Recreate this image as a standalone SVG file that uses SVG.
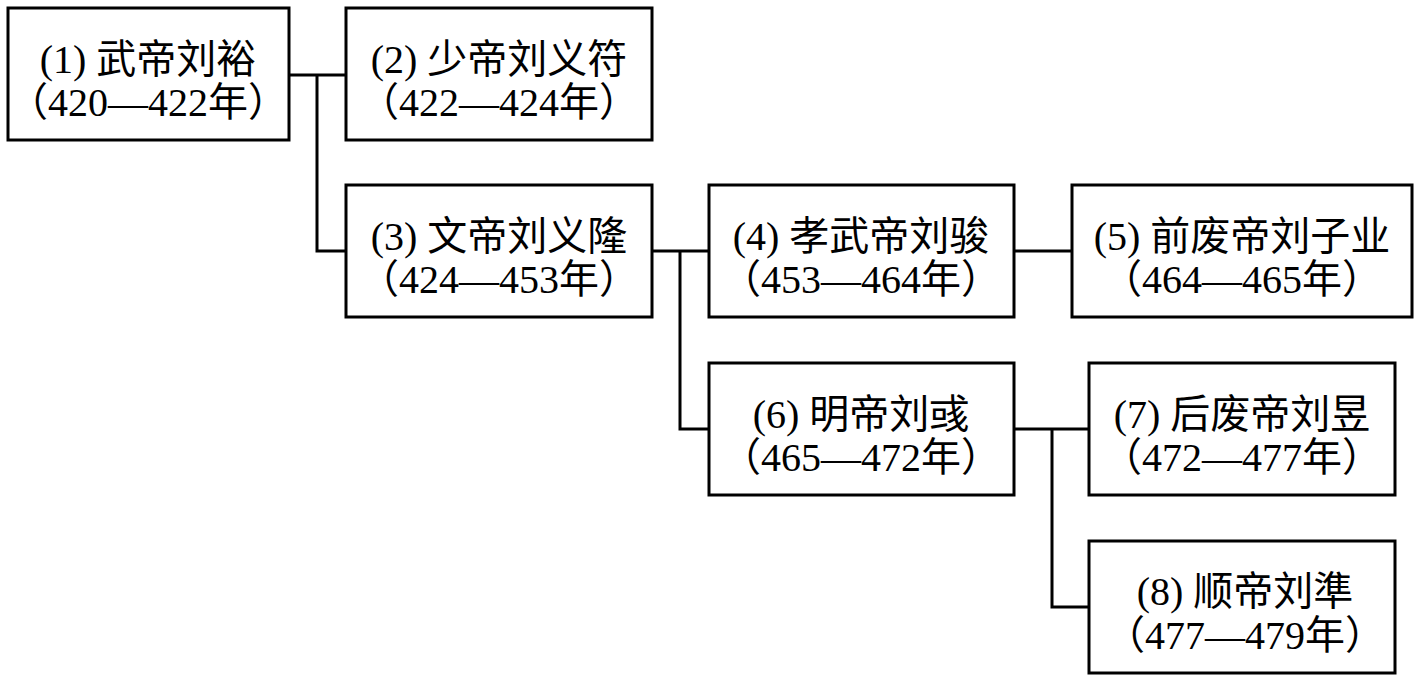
<svg xmlns="http://www.w3.org/2000/svg" width="1419" height="681" viewBox="0 0 1419 681">
<style>
.box{fill:#fff;stroke:#000;stroke-width:3}
.con{fill:none;stroke:#000;stroke-width:3}
text{font-family:"Liberation Serif","Noto Sans CJK SC",serif;font-size:40px;fill:#000;text-anchor:middle}
.d{font-family:"Liberation Serif",serif}
</style>
<rect width="1419" height="681" fill="#fff"/>
<g id="connectors">
<path class="con" d="M289 75H345M317 75V251H345"/>
<path class="con" d="M652 251H708M680 251V429H708"/>
<path class="con" d="M1014 251H1071"/>
<path class="con" d="M1014 429H1088M1052 429V607H1088"/>
</g>
<g id="n1"><rect class="box" x="8" y="8" width="281" height="132"/><text x="148" y="73">(1) 武帝刘裕</text><text x="148" y="116">（<tspan class="d">420—422</tspan>年）</text></g>
<g id="n2"><rect class="box" x="346" y="8" width="306" height="132"/><text x="499" y="73">(2) 少帝刘义符</text><text x="499" y="116">（<tspan class="d">422—424</tspan>年）</text></g>
<g id="n3"><rect class="box" x="346" y="185" width="306" height="132"/><text x="499" y="250">(3) 文帝刘义隆</text><text x="499" y="293">（<tspan class="d">424—453</tspan>年）</text></g>
<g id="n4"><rect class="box" x="709" y="185" width="305" height="132"/><text x="861" y="250">(4) 孝武帝刘骏</text><text x="861" y="293">（<tspan class="d">453—464</tspan>年）</text></g>
<g id="n5"><rect class="box" x="1072" y="185" width="340" height="132"/><text x="1242" y="250">(5) 前废帝刘子业</text><text x="1242" y="293">（<tspan class="d">464—465</tspan>年）</text></g>
<g id="n6"><rect class="box" x="709" y="363" width="305" height="132"/><text x="861" y="428">(6) 明帝刘彧</text><text x="861" y="471">（<tspan class="d">465—472</tspan>年）</text></g>
<g id="n7"><rect class="box" x="1089" y="363" width="306" height="132"/><text x="1242" y="428">(7) 后废帝刘昱</text><text x="1242" y="471">（<tspan class="d">472—477</tspan>年）</text></g>
<g id="n8"><rect class="box" x="1089" y="541" width="306" height="132"/><text x="1245" y="605">(8) 顺帝刘準</text><text x="1245" y="649">（<tspan class="d">477—479</tspan>年）</text></g>
</svg>
